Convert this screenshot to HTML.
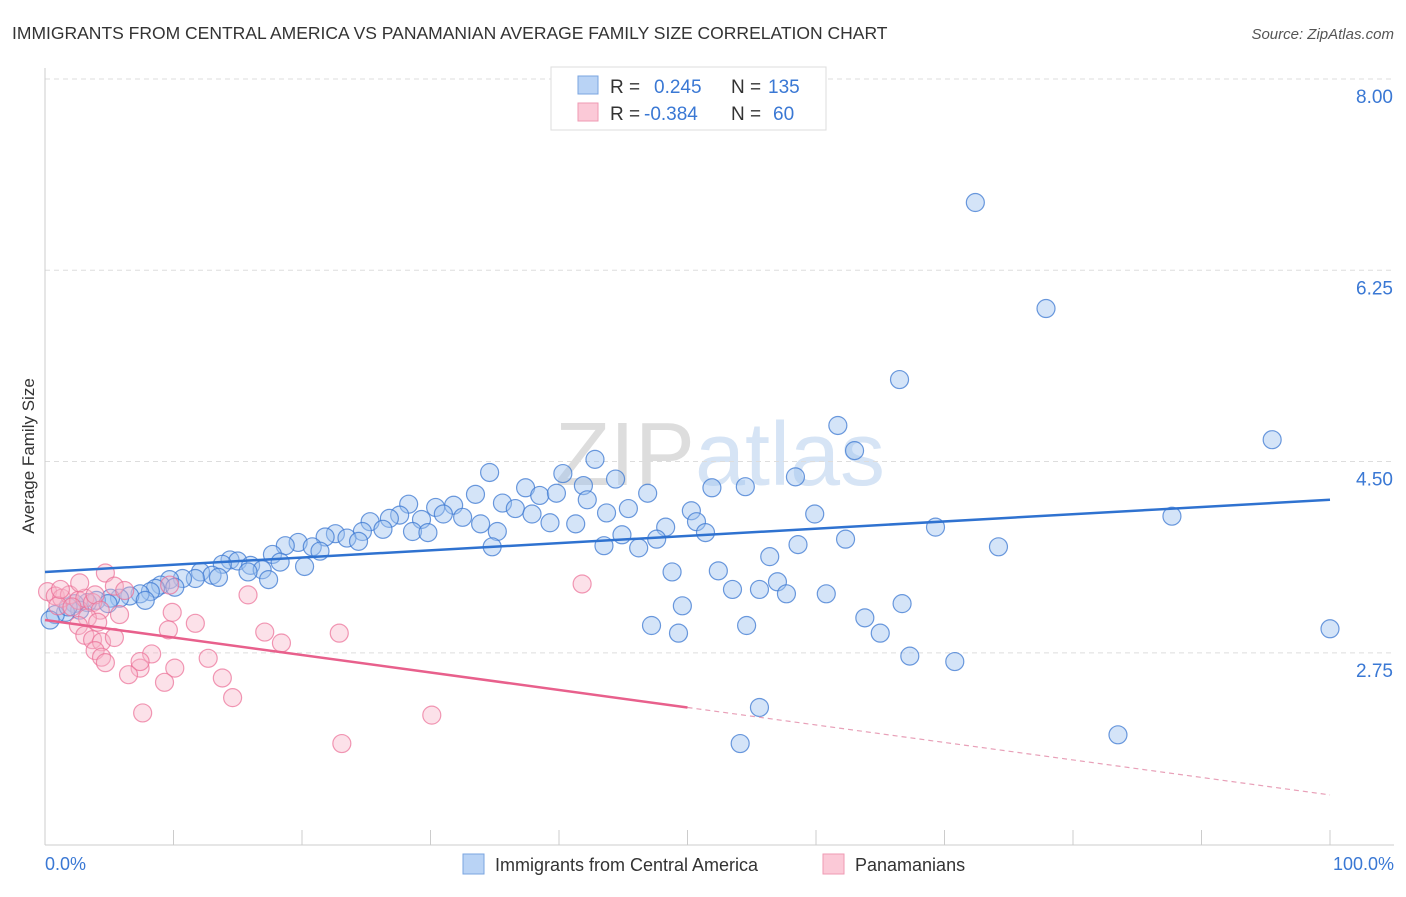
<!DOCTYPE html>
<html><head><meta charset="utf-8"><style>
body{margin:0;background:#fff;font-family:"Liberation Sans",sans-serif}
svg text{font-family:"Liberation Sans",sans-serif}
</style></head><body>
<svg width="1406" height="892" xmlns="http://www.w3.org/2000/svg">
<text x="12" y="39" font-size="17.5" fill="#333">IMMIGRANTS FROM CENTRAL AMERICA VS PANAMANIAN AVERAGE FAMILY SIZE CORRELATION CHART</text>
<text x="1394" y="39" font-size="15" fill="#555" font-style="italic" text-anchor="end">Source: ZipAtlas.com</text>
<text x="720" y="485" font-size="90" fill="#e3e3e3" text-anchor="middle" font-family="Liberation Serif"><tspan fill="#ddd">ZIP</tspan><tspan fill="#d6e4f5">atlas</tspan></text>
<g id="grid"></g>
<line x1="45" y1="68" x2="45" y2="845" stroke="#ccc"/>
<line x1="45" y1="845" x2="1394" y2="845" stroke="#ccc"/>
<g id="xt"></g>
<g id="yt"></g>
<text x="34" y="456" font-size="17" fill="#333" text-anchor="middle" transform="rotate(-90 34 456)">Average Family Size</text>
<text x="45" y="870" font-size="18" fill="#3a78d4">0.0%</text>
<text x="1394" y="870" font-size="18" fill="#3a78d4" text-anchor="end">100.0%</text>
<g id="pts"></g>
<g id="trend"></g>
<g>
<rect x="551" y="67" width="275" height="63" fill="#fff" stroke="#ddd"/>
<rect x="578" y="76" width="20" height="18" fill="#b9d3f5" stroke="#7aa5e0"/>
<rect x="578" y="103" width="20" height="18" fill="#fbc9d7" stroke="#ef9ab3"/>
<text x="610" y="93" font-size="19" fill="#333">R = <tspan fill="#3a78d4" x="654">0.245</tspan><tspan x="731" fill="#333">N = </tspan><tspan fill="#3a78d4" x="768">135</tspan></text>
<text x="610" y="120" font-size="19" fill="#333">R = <tspan fill="#3a78d4" x="644">-0.384</tspan><tspan x="731" fill="#333">N = </tspan><tspan fill="#3a78d4" x="773">60</tspan></text>
</g>
<g>
<rect x="463" y="854" width="21" height="20" fill="#b9d3f5" stroke="#7aa5e0"/>
<text x="495" y="871" font-size="18" fill="#333">Immigrants from Central America</text>
<rect x="823" y="854" width="21" height="20" fill="#fbc9d7" stroke="#ef9ab3"/>
<text x="855" y="871" font-size="18" fill="#333">Panamanians</text>
</g>
</svg>
<script>
const yTicks=[8.00,6.25,4.50,2.75];
const yTickLabels=["8.00","6.25","4.50","2.75"];
const blueX=[72.4,77.9,66.5,61.7,63.0,95.5,42.8,34.6,40.3,44.4,58.4,51.9,54.5,37.4,41.9,46.9,33.5,38.5,39.8,42.2,35.6,28.3,30.4,31.8,36.6,45.4,50.3,43.7,59.9,87.7,31.0,32.5,37.9,27.6,26.8,29.3,25.3,33.9,39.3,41.3,50.7,48.3,69.3,26.3,28.6,29.8,35.2,24.7,22.6,23.5,21.8,24.4,51.4,44.9,47.6,62.3,19.7,18.7,20.8,21.4,43.5,46.2,58.6,74.2,34.8,17.7,18.3,20.2,14.4,15.0,13.8,16.0,16.9,15.8,12.1,13.0,11.7,13.5,10.7,9.7,17.4,56.4,48.8,52.4,57.0,9.0,8.6,10.1,8.2,7.4,6.6,5.8,7.8,5.1,4.0,3.3,4.9,2.3,2.7,1.6,0.8,0.4,1.8,53.5,55.6,57.7,60.8,49.6,66.7,63.8,47.2,49.3,54.6,65.0,100,67.3,70.8,55.6,54.1,83.5];
const blueY=[6.87,5.90,5.25,4.83,4.60,4.70,4.52,4.40,4.39,4.34,4.36,4.26,4.27,4.26,4.28,4.21,4.20,4.19,4.21,4.15,4.12,4.11,4.08,4.10,4.07,4.07,4.05,4.03,4.02,4.00,4.02,3.99,4.02,4.01,3.98,3.97,3.95,3.93,3.94,3.93,3.95,3.90,3.90,3.88,3.86,3.85,3.86,3.86,3.84,3.80,3.81,3.77,3.85,3.83,3.79,3.79,3.76,3.73,3.72,3.68,3.73,3.71,3.74,3.72,3.72,3.65,3.58,3.54,3.60,3.59,3.56,3.55,3.51,3.49,3.49,3.46,3.43,3.44,3.43,3.42,3.42,3.63,3.49,3.50,3.40,3.37,3.34,3.35,3.31,3.29,3.27,3.25,3.23,3.25,3.23,3.21,3.20,3.20,3.14,3.12,3.10,3.05,3.17,3.33,3.33,3.29,3.29,3.18,3.20,3.07,3.00,2.93,3.00,2.93,2.97,2.72,2.67,2.25,1.92,2.00];
const pinkX=[0.2,0.8,1.3,1.9,2.6,3.1,3.7,1.0,2.1,2.7,4.7,5.4,6.2,3.9,4.3,3.3,4.1,2.6,3.1,3.7,4.4,5.4,3.9,4.4,4.7,9.7,9.9,9.6,11.7,15.8,17.1,18.4,22.9,8.3,7.4,6.5,10.1,9.3,12.7,13.8,14.6,7.6,30.1,23.1,41.8,7.4,5.8,1.2];
const pinkY=[3.31,3.27,3.25,3.28,3.23,3.25,3.21,3.18,3.17,3.39,3.48,3.36,3.32,3.28,3.14,3.07,3.03,3.00,2.91,2.87,2.85,2.89,2.77,2.71,2.66,3.37,3.12,2.96,3.02,3.28,2.94,2.84,2.93,2.74,2.61,2.55,2.61,2.48,2.70,2.52,2.34,2.20,2.18,1.92,3.38,2.67,3.10,3.33];
const blueTrend=[3.49,4.15];
const pinkTrend=[3.05,1.45];
const NS="http://www.w3.org/2000/svg";
const X=v=>45+v*12.85, Y=v=>79+(8-v)*109.3;
function mk(t,a,p){const e=document.createElementNS(NS,t);for(const k in a)e.setAttribute(k,a[k]);p.appendChild(e);return e;}
const grid=document.getElementById('grid'),yt=document.getElementById('yt'),xt=document.getElementById('xt');
yTicks.forEach((v,i)=>{
 const l=mk('line',{x1:45,x2:1394,y1:Y(v),y2:Y(v),stroke:'#ddd','stroke-dasharray':'5,4'},grid);
 
 
 const t=mk('text',{x:1393,y:Y(v)+24,'font-size':19,fill:'#3a78d4','text-anchor':'end'},yt);
 t.textContent=yTickLabels[i];
 
 
});
for(let i=0;i<=10;i++){const l=mk('line',{x1:X(i*10),x2:X(i*10),y1:830,y2:845,stroke:'#ccc'},xt);
 
 }
const pts=document.getElementById('pts');
blueX.forEach((v,i)=>{const c=mk('circle',{cx:X(v),cy:Y(blueY[i]),r:9,fill:'rgba(160,196,240,0.45)',stroke:'rgba(60,120,210,0.75)','stroke-width':1.2},pts);
 
 });
pinkX.forEach((v,i)=>{const c=mk('circle',{cx:X(v),cy:Y(pinkY[i]),r:9,fill:'rgba(248,180,200,0.4)',stroke:'rgba(235,110,150,0.7)','stroke-width':1.2},pts);
 
 });
const tr=document.getElementById('trend');
let b=mk('line',{x1:X(0),y1:Y(blueTrend[0]),x2:X(100),y2:Y(blueTrend[1]),stroke:'#2f72d0','stroke-width':2.5},tr);


const pm=pinkTrend[0]+(pinkTrend[1]-pinkTrend[0])*0.5;
let p1=mk('line',{x1:X(0),y1:Y(pinkTrend[0]),x2:X(50),y2:Y(pm),stroke:'#e8608c','stroke-width':2.5},tr);


let p2=mk('line',{x1:X(50),y1:Y(pm),x2:X(100),y2:Y(pinkTrend[1]),stroke:'#e8a0b8','stroke-width':1.2,'stroke-dasharray':'5,4'},tr);


</script>
</body></html>
